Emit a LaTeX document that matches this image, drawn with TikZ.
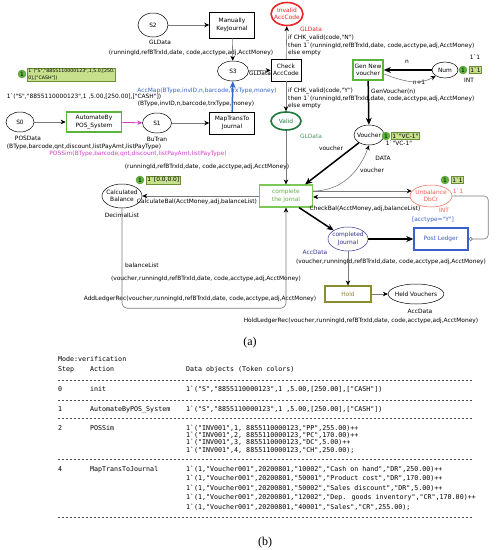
\documentclass[tikz,border=0pt]{standalone}
\usepackage{fontspec}
\newfontfamily\petrifont{DejaVu Sans}
\newfontfamily\tracefont{DejaVu Sans Mono}
\newfontfamily\capfont{Liberation Serif}
\newcommand\petri{\petrifont\fontsize{5.9}{7.5}\selectfont}
\newcommand\tracetext{\tracefont\fontsize{6.65}{8}\selectfont}
\usetikzlibrary{arrows.meta,shapes.geometric,positioning}
\definecolor{arcgray}{HTML}{7A7A7A}
\definecolor{autogreen}{HTML}{5DB43A}
\definecolor{validgreen}{HTML}{1E7A3C}
\definecolor{jornalgreen}{HTML}{7CC95A}
\definecolor{markfill}{HTML}{C6E08C}
\definecolor{markdraw}{HTML}{6E8E3A}
\definecolor{tokenfill}{HTML}{5AB63C}
\definecolor{invred}{HTML}{E8262A}
\definecolor{unbred}{HTML}{F0604C}
\definecolor{ledgerblue}{HTML}{3D5FC9}
\definecolor{journalblue}{HTML}{33338F}
\definecolor{mapblue}{HTML}{3466C8}
\definecolor{possim}{HTML}{D23CC8}
\definecolor{holdolive}{HTML}{8A8C2E}
\tikzset{
  place/.style={ellipse, draw=black, line width=0.5pt, fill=white, inner xsep=-1.5pt, inner ysep=0pt, align=center, font=\petri},
  trans/.style={rectangle, draw=black, line width=0.5pt, fill=white, inner sep=1pt, align=center, font=\petri},
  marking/.style={rectangle, draw=markdraw, fill=markfill, line width=0.5pt, inner sep=1pt, align=left, font=\petri},
  token/.style={circle, draw=markdraw, fill=tokenfill, inner sep=0pt, minimum size=8pt, font=\petri},
  arc/.style={-{Stealth[length=5pt,width=4.5pt,color=black]}, draw=arcgray, line width=0.6pt},
  colour arc/.style={-{Stealth[length=5pt,width=4.5pt]}, line width=0.8pt},
  bold arc/.style={-{Stealth[length=7pt,width=6pt]}, draw=black, line width=1.5pt},
  lbl/.style={font=\petri, inner sep=0pt},
  trace/.style={font=\tracetext, anchor=base west, inner sep=0pt},
  rule/.style={draw=black!70, dash pattern=on 2.4pt off 1.6pt, line width=0.4pt}
}
\begin{document}
\begin{tikzpicture}[x=1pt, y=1pt]
\useasboundingbox (0,0) rectangle (498,-550);
% places
\node[place, minimum width=30pt, minimum height=24pt] (S2) at (153,-25) {S2};
\node[place, minimum width=31pt, minimum height=20pt] (S3) at (233,-71) {S3};
\node[place, minimum width=28pt, minimum height=20pt] (S0) at (20,-122) {S0};
\node[place, minimum width=29pt, minimum height=20pt] (S1) at (157,-123) {S1};
\node[place, draw=invred, line width=1.6pt, text=invred, minimum width=31pt, minimum height=23pt] (invalid) at (287,-14) {Invalid\\AccCode};
\node[place, draw=validgreen, line width=1.6pt, text=validgreen, minimum width=30pt, minimum height=18pt] (valid) at (286,-121) {Valid};
\node[place, minimum width=26pt, minimum height=16pt] (num) at (445,-70) {Num};
\node[place, minimum width=30pt, minimum height=20pt] (voucher) at (369,-135) {Voucher};
\node[place, draw=unbred, text=unbred, minimum width=42pt, minimum height=22pt] (unbal) at (431,-196) {Unbalance\\DbCr};
\node[place, draw=journalblue, text=journalblue, minimum width=40pt, minimum height=24pt] (cjournal) at (348,-239) {completed\\Journal};
\node[place, minimum width=55pt, minimum height=20pt] (held) at (416,-294) {Held Vouchers};
\node[place, minimum width=40pt, minimum height=24pt] (calc) at (122,-196) {Calculated\\Balance};
% transitions
\node[trans, minimum width=45pt, minimum height=26pt] (manual) at (232,-25) {Manually\\KeyJournal};
\node[trans, minimum width=30pt, minimum height=22pt] (check) at (286,-70) {Check\\AccCode};
\node[trans, draw=autogreen, line width=1.6pt, minimum width=55pt, minimum height=20pt] (auto) at (94,-122) {AutomateBy\\POS\_System};
\node[trans, minimum width=45pt, minimum height=22pt] (map) at (232,-123) {MapTransTo\\Journal};
\node[trans, draw=autogreen, line width=1.6pt, minimum width=30pt, minimum height=20pt] (genvoucher) at (368,-70) {Gen New\\voucher};
\node[trans, draw=jornalgreen, line width=1.2pt, text=jornalgreen!85!black, minimum width=53pt, minimum height=22pt] (complete) at (286,-196) {complete\\the jornal};
\node[trans, draw=ledgerblue, line width=1.4pt, text=ledgerblue, minimum width=54pt, minimum height=22pt] (post) at (441,-239) {Post Ledger};
\node[trans, draw=holdolive, line width=1.2pt, text=holdolive, minimum width=46pt, minimum height=16pt] (hold) at (348,-294) {Hold};
% markings
\node[token] (tokS0) at (22,-74) {1};
\node[marking, anchor=west, font=\petrifont\fontsize{4.7}{6.5}\selectfont] (markS0) at (27,-74.5) {1`("S","8855110000123",1,5.0,[250.\\0],["CASH"])};
\node[token] (tokNum) at (463,-70) {1};
\node[marking, anchor=west] (markNum) at (469,-70) {1`1};
\node[token] (tokVoucher) at (386,-136) {1};
\node[marking, anchor=west] (markVoucher) at (391,-136) {1`"VC-1"};
\node[token] (tokUnbal) at (445,-180) {1};
\node[marking, anchor=west] (markUnbal) at (451,-180) {1`1};
\node[token] (tokCalc) at (140,-180) {1};
\node[marking, anchor=west] (markCalc) at (146,-180) {1`[0.0,0.0]};
% inscriptions
\node[lbl] (typeS2) at (160,-42) {GLData};
\node[lbl] (exManual) at (191,-53) {(runningId,refBTrxId,date, code,acctype,adj,AcctMoney)};
\node[lbl] (typeS3) at (260,-73) {GLData};
\node[lbl, text=invred] (typeInvalid) at (311,-29) {GLData};
\node[lbl, align=left, anchor=west] (guardN) at (288,-45.5) {if CHK\_valid(code,"N")\\then 1`(runningId,refBTrxId,date, code,acctype,adj,AcctMoney)\\else empty};
\node[lbl, align=left, anchor=west] (guardY) at (288,-98.5) {if CHK\_valid(code,"Y")\\then 1`(runningId,refBTrxId,date, code,acctype,adj,AcctMoney)\\else empty};
\node[lbl, text=validgreen!80!white] (typeValid) at (311,-136) {GLData};
\node[lbl] (exNum) at (407,-62) {n};
\node[lbl] (exNumOut) at (419,-82) {n+1};
\node[lbl] (initNum) at (475,-57) {1`1};
\node[lbl] (typeNum) at (469,-80) {INT};
\node[lbl, anchor=west] (exGen) at (371,-92) {GenVoucher(n)};
\node[lbl] (initVoucher) at (399,-143) {1`"VC-1"};
\node[lbl] (typeVoucher) at (383,-158) {DATA};
\node[lbl] (exVoucherIn) at (331,-148) {voucher};
\node[lbl] (exVoucherOut) at (372,-170) {voucher};
\node[lbl] (exValid) at (207,-167) {(runningId,refBTrxId,date, code,acctype,adj,AcctMoney)};
\node[lbl] (typeCalc) at (122,-215) {DecimalList};
\node[lbl] (exCalc) at (197,-202) {CalculateBal(AcctMoney,adj,balanceList)};
\node[lbl] (exCheck) at (365,-209) {CheckBal(AcctMoney,adj,balanceList)};
\node[lbl, text=unbred] (initUnbal) at (458,-191) {1`1};
\node[lbl, text=unbred] (typeUnbal) at (444,-210) {INT};
\node[lbl, text=ledgerblue] (guardPost) at (433,-220) {[acctype="Y"]};
\node[lbl, text=journalblue] (typeCJ) at (315,-252) {AccData};
\node[lbl] (exHold) at (391,-262) {(voucher,runningId,refBTrxId,date, code,acctype,adj,AcctMoney)};
\node[lbl] (typeHeld) at (420,-311) {AccData};
\node[lbl] (exHeld) at (361,-321) {HoldLedgerRec(voucher,runningId,refBTrxId,date, code,acctype,adj,AcctMoney)};
\node[lbl, anchor=west] (exBal) at (125,-265) {balanceList};
\node[lbl] (exLedger) at (206,-279) {(voucher,runningId,refBTrxId,date, code,acctype,adj,AcctMoney)};
\node[lbl] (exAdd) at (200,-299) {AddLedgerRec(voucher,runningId,refBTrxId,date, code,acctype,adj,AcctMoney)};
\node[lbl] (typeS0) at (28,-138) {POSData};
\node[lbl] (typeS1) at (157,-139) {BuTran};
\node[lbl] (exS0) at (84,-147) {(BType,barcode,qnt,discount,listPayAmt,listPayType)};
\node[lbl, text=possim] (exAuto) at (138,-154) {POSSim(BType,barcode,qnt,discount,listPayAmt,listPayType)};
\node[lbl, text=mapblue] (exMap) at (207,-91) {AccMap(BType,invID,n,barcode,trxType,money)};
\node[lbl] (initS0) at (84,-97) {1`("S","8855110000123",1 ,5.00,[250.00],["CASH"])};
\node[lbl] (exS1) at (196,-104) {(BType,invID,n,barcode,trxType,money)};
% arcs
\draw[arc] (S2) -- (manual);
\draw[arc] (manual) -- (S3);
\draw[arc] (S3) -- (check);
\draw[arc] (check) -- (invalid);
\draw[arc] (check) -- (valid);
\draw[arc] (valid) -- (complete);
\draw[bold arc] (num) -- (genvoucher);
\draw[arc] ([yshift=-4pt]genvoucher.east) to[out=-20,in=-150] (num.south west);
\draw[bold arc] (genvoucher) -- (voucher);
\draw[bold arc] (voucher) -- ([xshift=-8pt]complete.north east);
\draw[arc] ([yshift=5pt]complete.east) to[out=0,in=-110] (voucher.south);
\draw[arc] ([yshift=5pt]complete.east) -- ([xshift=2pt,yshift=5pt]unbal.west);
\draw[arc] ([yshift=-1pt]unbal.west) -- ([yshift=-1pt]complete.east);
\draw[arc, rounded corners=4pt, -{Circle[open,length=4pt]}] (unbal.east) -- ++(36,0) |- (post.east);
\draw[bold arc] ([xshift=-14pt]complete.south east) -- (cjournal.north west);
\draw[bold arc] (cjournal) -- (post);
\draw[arc] (cjournal) -- (hold);
\draw[arc] (hold) -- (held);
\draw[arc] (complete) -- (calc);
\draw[arc, rounded corners=5pt] (calc.south) -- ++(0,-100) -| (complete.south);
\draw[arc] (S0) -- (auto);
\draw[colour arc, draw=possim] (auto) -- (S1);
\draw[arc] (S1) -- (map);
\draw[bold arc, draw=mapblue] (map) -- (S3);
\node[font=\capfont\fontsize{12}{14}\selectfont] (capA) at (250,-343) {(a)};
% trace of the simulation
\node[trace] (mode) at (58,-361) {Mode:verification};
\node[trace] (hStep) at (58,-371) {Step};
\node[trace] (hAction) at (90,-371) {Action};
\node[trace] (hData) at (186,-371) {Data objects (Token colors)};
\foreach \y in {380,400,418,459,517}
  \draw[rule] (58,-\y) -- (473,-\y);
\node[trace] (step0) at (58,-391) {0};
\node[trace] (act0) at (90,-391) {init};
\node[trace] (data0) at (186,-391) {1`("S","8855110000123",1 ,5.00,[250.00],["CASH"])};
\node[trace] (step1) at (58,-411) {1};
\node[trace] (act1) at (90,-411) {AutomateByPOS\_System};
\node[trace] (data1) at (186,-411) {1`("S","8855110000123",1 ,5.00,[250.00],["CASH"])};
\node[trace] (step2) at (58,-430) {2};
\node[trace] (act2) at (90,-430) {POSSim};
\foreach \txt [count=\i] in {{1`("INV001",1, 8855110000123,"PP",255.00)++},
    {1`("INV001",2, 8855110000123,"PC",170.00)++},
    {1`("INV001",3, 8855110000123,"DC",5.00)++},
    {1`("INV001",4, 8855110000123,"CH",250.00);}}
  \node[trace] (data2-\i) at (186,-430-7.4*\i+7.4) {\txt};
\node[trace] (step4) at (58,-471) {4};
\node[trace] (act4) at (90,-471) {MapTransToJournal};
\foreach \txt [count=\i] in {{1`(1,"Voucher001",20200801,"10002","Cash on hand","DR",250.00)++},
    {1`(1,"Voucher001",20200801,"50001","Product cost","DR",170.00)++},
    {1`(1,"Voucher001",20200801,"50002","Sales discount","DR",5.00)++},
    {1`(1,"Voucher001",20200801,"12002","Dep. goods inventory","CR",170.00)++},
    {1`(1,"Voucher001",20200801,"40001","Sales","CR",255.00);}}
  \node[trace] (data4-\i) at (186,-471-9.5*\i+9.5) {\txt};
\node[font=\capfont\fontsize{12}{14}\selectfont] (capB) at (265,-543) {(b)};
\end{tikzpicture}
\end{document}
